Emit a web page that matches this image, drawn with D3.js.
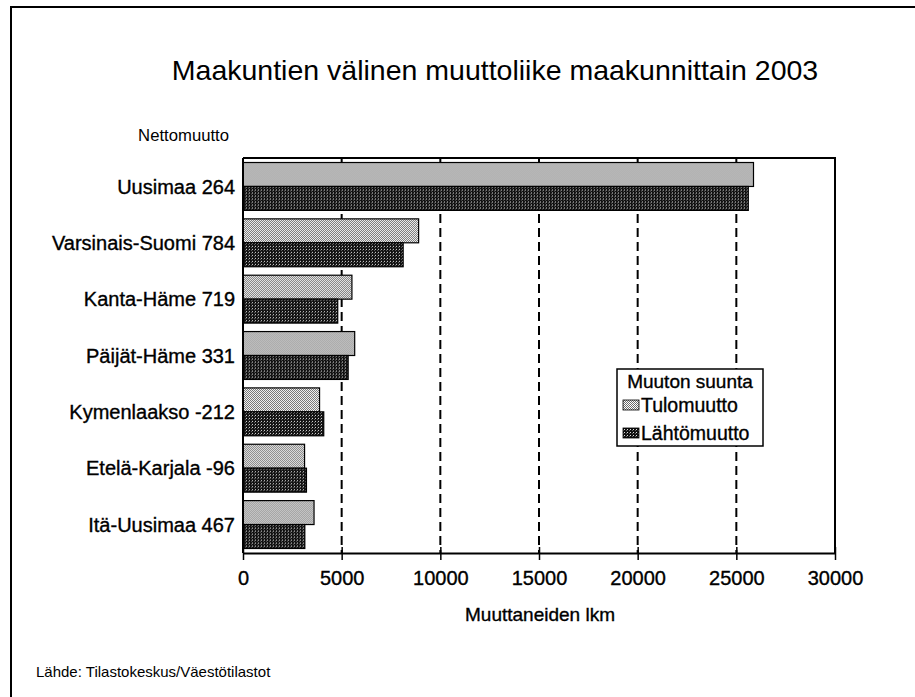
<!DOCTYPE html>
<html>
<head>
    <meta charset="utf-8">
    <script src="https://d3js.org/d3.v7.min.js"></script>
    <title>Maakuntien välinen muuttoliike 2003</title>
    <style>
        body { margin: 0; background: #fff; }
        text { font-family: "Liberation Sans", Arial, sans-serif; fill: #000; }
        .heavy { stroke: #000; stroke-width: 0.35px; }
    </style>
</head>
<body>
    <svg id="chart" width="915" height="697"></svg>
    <script>
        // data
        const regions = ["Uusimaa", "Varsinais-Suomi", "Kanta-Häme", "Päijät-Häme", "Kymenlaakso", "Etelä-Karjala", "Itä-Uusimaa"];
        const nettomuutto = [264, 784, 719, 331, -212, -96, 467];
        const tulomuutto = [25870, 8900, 5520, 5660, 3880, 3120, 3600];
        const lahtomuutto = [25606, 8116, 4801, 5329, 4092, 3216, 3133];
        const seriesNames = ["Tulomuutto", "Lähtömuutto"];
        const xTicks = [0, 5000, 10000, 15000, 20000, 25000, 30000];

        const svg = d3.select('svg#chart');
        const plot = {left: 243, right: 835, top: 158, bottom: 553};

        // patterns for the two series
        const defs = svg.append('defs');
        const pTulo = defs.append('pattern')
            .attr('id', 'pTulo').attr('patternUnits', 'userSpaceOnUse')
            .attr('width', 2).attr('height', 2);
        pTulo.append('rect').attr('width', 2).attr('height', 2).attr('fill', '#fff');
        pTulo.append('rect').attr('x', 0).attr('y', 0).attr('width', 1).attr('height', 1).attr('fill', '#6a6a6a');
        pTulo.append('rect').attr('x', 1).attr('y', 1).attr('width', 1).attr('height', 1).attr('fill', '#6a6a6a');

        const pLahto = defs.append('pattern')
            .attr('id', 'pLahto').attr('patternUnits', 'userSpaceOnUse')
            .attr('width', 3).attr('height', 3);
        pLahto.append('rect').attr('width', 3).attr('height', 3).attr('fill', '#111');
        pLahto.append('rect').attr('x', 0).attr('y', 0).attr('width', 1).attr('height', 1).attr('fill', '#ddd');
        pLahto.append('rect').attr('x', 2).attr('y', 1).attr('width', 1).attr('height', 1).attr('fill', '#666');
        const fills = ['url(#pTulo)', 'url(#pLahto)'];

        // outer frame (left and top only)
        svg.append('path')
            .attr('d', 'M11,697 V7 H915')
            .attr('fill', 'none').attr('stroke', '#000').attr('stroke-width', 2);

        // scales
        const x = d3.scaleLinear().domain([0, 30000]).range([plot.left, plot.right]);
        const y = d3.scaleBand().domain(regions).range([plot.top, plot.bottom])
            .paddingInner(0.15).paddingOuter(0.08);
        const ySub = d3.scaleBand().domain(seriesNames).range([0, y.bandwidth()]);

        // dashed gridlines
        svg.append('g').selectAll('line')
            .data(xTicks.slice(1, -1))
            .join('line')
            .attr('x1', d => x(d)).attr('x2', d => x(d))
            .attr('y1', plot.top).attr('y2', plot.bottom)
            .attr('stroke', '#000').attr('stroke-width', 2)
            .attr('stroke-dasharray', '9,5');

        // bars
        const rows = regions.map((r, i) => ({region: r, values: [tulomuutto[i], lahtomuutto[i]]}));
        const groups = svg.append('g').selectAll('g')
            .data(rows)
            .join('g')
            .attr('transform', d => `translate(0,${y(d.region)})`);
        groups.selectAll('rect')
            .data(d => d.values.map((v, j) => ({series: seriesNames[j], value: v, j: j})))
            .join('rect')
            .attr('x', x(0))
            .attr('y', d => ySub(d.series))
            .attr('width', d => x(d.value) - x(0))
            .attr('height', ySub.bandwidth())
            .attr('fill', d => fills[d.j])
            .attr('stroke', '#000').attr('stroke-width', 1.2);

        // plot frame: top + right
        svg.append('path')
            .attr('d', `M${plot.left},${plot.top} H${plot.right} V${plot.bottom}`)
            .attr('fill', 'none').attr('stroke', '#000').attr('stroke-width', 2);

        // left axis line
        svg.append('line')
            .attr('x1', plot.left).attr('x2', plot.left)
            .attr('y1', plot.top).attr('y2', plot.bottom)
            .attr('stroke', '#000').attr('stroke-width', 2);

        // bottom axis
        const xAxis = d3.axisBottom(x).tickValues(xTicks).tickSizeInner(7).tickSizeOuter(0).tickPadding(11)
            .tickFormat(d3.format('d'));
        const axisG = svg.append('g').attr('transform', `translate(0,${plot.bottom})`).call(xAxis);
        axisG.select('.domain').attr('stroke-width', 2);
        axisG.selectAll('.tick line').attr('y1', -6).attr('stroke-width', 1.5);
        axisG.selectAll('.tick text')
            .attr('class', 'heavy')
            .style('font-family', '"Liberation Sans", Arial, sans-serif')
            .attr('font-size', 20);

        // category labels
        svg.append('g').selectAll('text')
            .data(regions)
            .join('text')
            .attr('class', 'heavy')
            .attr('x', 235)
            .attr('y', d => y(d) + y.bandwidth() / 2)
            .attr('dy', '0.36em')
            .attr('text-anchor', 'end')
            .attr('font-size', 20)
            .text((d, i) => `${d} ${nettomuutto[i]}`);

        svg.append('text')
            .attr('x', 229).attr('y', 141)
            .attr('text-anchor', 'end')
            .attr('font-size', 16.7)
            .text('Nettomuutto');

        // title
        svg.append('text')
            .attr('x', 495).attr('y', 80)
            .attr('text-anchor', 'middle')
            .attr('font-size', 28.5)
            .text('Maakuntien välinen muuttoliike maakunnittain 2003');

        // axis title
        svg.append('text')
            .attr('class', 'heavy')
            .attr('x', 540).attr('y', 621)
            .attr('text-anchor', 'middle')
            .attr('font-size', 19)
            .text('Muuttaneiden lkm');

        // legend
        const legend = svg.append('g');
        legend.append('rect')
            .attr('x', 617).attr('y', 369).attr('width', 146).attr('height', 77)
            .attr('fill', '#fff').attr('stroke', '#000').attr('stroke-width', 1.5);
        legend.append('text')
            .attr('class', 'heavy')
            .attr('x', 690).attr('y', 388)
            .attr('text-anchor', 'middle')
            .attr('font-size', 19)
            .text('Muuton suunta');
        seriesNames.forEach((s, i) => {
            legend.append('rect')
                .attr('x', 623).attr('y', 400 + i * 28)
                .attr('width', 16).attr('height', 10)
                .attr('fill', fills[i]).attr('stroke', '#000').attr('stroke-width', 0.8);
            legend.append('text')
                .attr('class', 'heavy')
                .attr('x', 641).attr('y', 412 + i * 28)
                .attr('font-size', 19.5)
                .text(s);
        });

        // source
        svg.append('text')
            .attr('x', 36).attr('y', 677)
            .attr('font-size', 15)
            .text('Lähde: Tilastokeskus/Väestötilastot');
    </script>
</body>
</html>
